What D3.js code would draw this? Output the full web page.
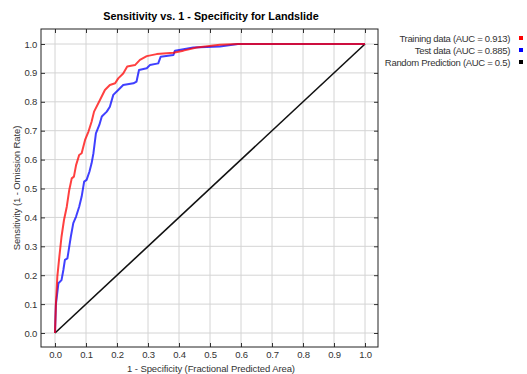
<!DOCTYPE html>
<html>
<head>
<meta charset="utf-8">
<script src="https://cdn.jsdelivr.net/npm/d3@7"></script>
<style>
  body { margin: 0; background: #fff; }
  text { font-family: "Liberation Sans", Arial, sans-serif; }
</style>
</head>
<body>
<svg id="chart" width="527" height="374"></svg>
<script>
// ROC points: [1 - specificity, sensitivity]
const trainingX = [0, 0.003, 0.0075, 0.014, 0.021, 0.029, 0.038, 0.046, 0.054, 0.061, 0.068, 0.078, 0.086, 0.097, 0.108, 0.118, 0.126, 0.145, 0.161, 0.177, 0.194, 0.204, 0.22, 0.233, 0.258, 0.274, 0.296, 0.328, 0.382, 0.414, 0.457, 0.532, 0.59, 1.0];
const trainingY = [0, 0.103, 0.195, 0.264, 0.333, 0.391, 0.437, 0.495, 0.535, 0.541, 0.581, 0.616, 0.622, 0.668, 0.697, 0.731, 0.766, 0.806, 0.841, 0.858, 0.864, 0.881, 0.898, 0.922, 0.927, 0.945, 0.958, 0.965, 0.97, 0.977, 0.988, 0.997, 1.0, 1.0];
const testX = [0, 0.003, 0.011, 0.021, 0.027, 0.032, 0.040, 0.046, 0.051, 0.059, 0.068, 0.078, 0.086, 0.094, 0.102, 0.111, 0.118, 0.124, 0.132, 0.143, 0.151, 0.167, 0.177, 0.188, 0.204, 0.220, 0.253, 0.263, 0.271, 0.296, 0.306, 0.333, 0.341, 0.382, 0.387, 0.446, 0.532, 0.59, 1.0];
const testY = [0, 0.10, 0.172, 0.183, 0.218, 0.253, 0.258, 0.299, 0.333, 0.380, 0.403, 0.437, 0.472, 0.524, 0.530, 0.558, 0.587, 0.622, 0.691, 0.720, 0.749, 0.766, 0.783, 0.824, 0.841, 0.858, 0.864, 0.870, 0.910, 0.916, 0.927, 0.933, 0.956, 0.962, 0.977, 0.988, 0.991, 1.0, 1.0];
const randomX = [0, 1];
const randomY = [0, 1];
const tickValues = [0, 0.1, 0.2, 0.3, 0.4, 0.5, 0.6, 0.7, 0.8, 0.9, 1.0];
const legendLabels = ["Training data (AUC = 0.913)", "Test data (AUC = 0.885)", "Random Prediction (AUC = 0.5)"];
const legendColors = ["#ff0000", "#0000ff", "#000000"];

const svg = d3.select('#chart');
const box = { left: 41, right: 378, top: 29, bottom: 347 };

const x = d3.scaleLinear().domain([0, 1]).range([55, 365]);
const y = d3.scaleLinear().domain([0, 1]).range([333, 44]);

// grid
svg.append('g').selectAll('line').data(tickValues).join('line')
  .attr('x1', d => x(d)).attr('x2', d => x(d))
  .attr('y1', box.top).attr('y2', box.bottom)
  .attr('stroke', '#d4d4d4').attr('stroke-width', 1);
svg.append('g').selectAll('line').data(tickValues).join('line')
  .attr('y1', d => y(d)).attr('y2', d => y(d))
  .attr('x1', box.left).attr('x2', box.right)
  .attr('stroke', '#d4d4d4').attr('stroke-width', 1);

// axes (ticks pointing inward, on all four sides)
const fmt = d3.format('.1f');
svg.append('g').attr('transform', `translate(0,${box.bottom})`)
  .call(d3.axisTop(x).tickValues(tickValues).tickSize(4).tickFormat(''));
svg.append('g').attr('transform', `translate(0,${box.bottom})`)
  .call(d3.axisBottom(x).tickValues(tickValues).tickSize(0).tickPadding(4).tickFormat(fmt));
svg.append('g').attr('transform', `translate(0,${box.top})`)
  .call(d3.axisBottom(x).tickValues(tickValues).tickSize(4).tickFormat(''));
svg.append('g').attr('transform', `translate(${box.left},0)`)
  .call(d3.axisRight(y).tickValues(tickValues).tickSize(4).tickFormat(''));
svg.append('g').attr('transform', `translate(${box.left},0)`)
  .call(d3.axisLeft(y).tickValues(tickValues).tickSize(0).tickPadding(4).tickFormat(fmt));
svg.append('g').attr('transform', `translate(${box.right},0)`)
  .call(d3.axisLeft(y).tickValues(tickValues).tickSize(4).tickFormat(''));

svg.selectAll('.domain').remove();
svg.selectAll('.tick line').attr('stroke', '#333');
svg.selectAll('.tick text').attr('fill', '#333')
  .style('font-size', '9.5px').style('letter-spacing', '-0.2px');

svg.append('rect')
  .attr('x', box.left).attr('y', box.top)
  .attr('width', box.right - box.left).attr('height', box.bottom - box.top)
  .attr('fill', 'none').attr('stroke', '#222').attr('stroke-width', 1);

// curves
const line = d3.line().x(d => x(d[0])).y(d => y(d[1]));
const series = [
  { xs: randomX, ys: randomY, color: '#111', width: 1.6, opacity: 1 },
  { xs: testX, ys: testY, color: '#0000ff', width: 2, opacity: 0.75 },
  { xs: trainingX, ys: trainingY, color: '#ff0000', width: 2, opacity: 0.75 }
];
series.forEach(s => {
  svg.append('path')
    .datum(d3.zip(s.xs, s.ys))
    .attr('fill', 'none')
    .attr('stroke', s.color)
    .attr('stroke-opacity', s.opacity)
    .attr('stroke-width', s.width)
    .attr('stroke-linejoin', 'round')
    .attr('d', line);
});

// title and axis titles
svg.append('text')
  .attr('x', 211).attr('y', 20).attr('text-anchor', 'middle')
  .style('font-size', '10.8px').style('font-weight', 'bold')
  .text('Sensitivity vs. 1 - Specificity for Landslide');
svg.append('text')
  .attr('x', 211).attr('y', 372).attr('text-anchor', 'middle')
  .style('font-size', '9.5px').style('letter-spacing', '-0.1px').attr('fill', '#333')
  .text('1 - Specificity  (Fractional Predicted Area)');
svg.append('text')
  .attr('transform', 'translate(20,188) rotate(-90)').attr('text-anchor', 'middle')
  .style('font-size', '9.5px').style('letter-spacing', '-0.1px').attr('fill', '#333')
  .text('Sensitivity  (1 - Omission Rate)');

// legend
const legend = svg.append('g').selectAll('g').data(legendLabels).join('g')
  .attr('transform', (d, i) => `translate(0,${38 + i * 12})`);
legend.append('text')
  .attr('x', 510).attr('y', 3.5).attr('text-anchor', 'end')
  .style('font-size', '9.5px').style('letter-spacing', '-0.3px').attr('fill', '#333')
  .text(d => d);
legend.append('rect')
  .attr('x', 519).attr('y', -2).attr('width', 4).attr('height', 4)
  .attr('fill', (d, i) => legendColors[i]);
</script>
</body>
</html>
